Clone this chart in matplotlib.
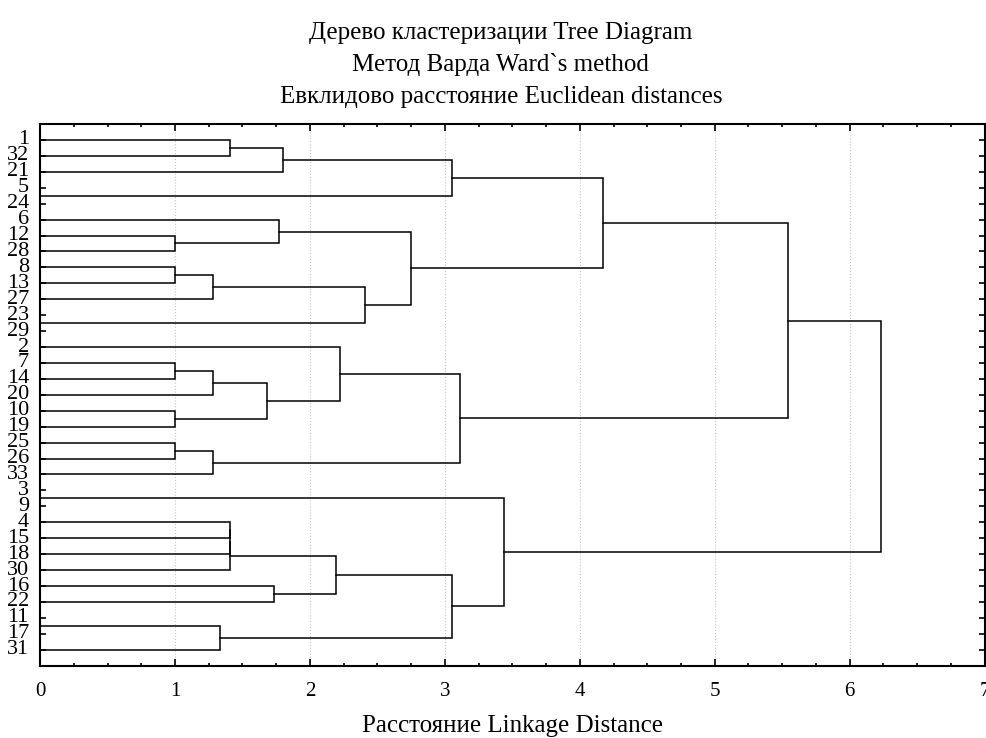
import matplotlib
matplotlib.use("Agg")
import matplotlib.pyplot as plt
from matplotlib.ticker import MultipleLocator

# leaf labels, top to bottom
leaf_labels = ['1', '32', '21', '5', '24', '6', '12', '28', '8', '13', '27', '23', '29',
               '2', '7', '14', '20', '10', '19', '25', '26', '33',
               '3', '9', '4', '15', '18', '30', '16', '22', '11', '17', '31']

# linkage: children (leaf index or cluster id from len(leaf_labels)) and join distance
merge_left = [3, 11, 22, 30, 6, 8, 14, 17, 19, 38, 39, 41, 36, 0, 24, 47,
              48, 43, 28, 5, 46, 49, 13, 42, 52, 53, 54, 55, 35, 58, 62, 63]
merge_right = [4, 12, 23, 31, 7, 9, 15, 18, 20, 10, 16, 21, 32, 1, 25, 26,
               27, 40, 29, 37, 2, 51, 50, 34, 56, 33, 45, 44, 59, 57, 60, 61]
merge_dist = [0.0, 0.0, 0.0, 0.0, 1.0, 1.0, 1.0, 1.0, 1.0, 1.28, 1.28, 1.28,
              1.33, 1.41, 1.41, 1.41, 1.41, 1.68, 1.735, 1.77, 1.80, 2.19,
              2.22, 2.41, 2.75, 3.05, 3.05, 3.11, 3.435, 4.17, 5.54, 6.23]

plt.rcParams['font.family'] = ['Liberation Serif', 'DejaVu Serif']

fig = plt.figure(figsize=(9.86, 7.38), dpi=100)
ax = fig.add_axes([0.0406, 0.098, 0.958, 0.734])

n = len(leaf_labels)
ypos = {i: float(i) for i in range(n)}
xpos = {i: 0.0 for i in range(n)}

for k, (a, b, d) in enumerate(zip(merge_left, merge_right, merge_dist)):
    ax.plot([xpos[a], d, d, xpos[b]], [ypos[a], ypos[a], ypos[b], ypos[b]],
            color='black', lw=1.1, solid_joinstyle='miter')
    cid = n + k
    ypos[cid] = (ypos[a] + ypos[b]) / 2
    xpos[cid] = d

ax.set_xlim(0, 7)
ax.set_ylim(n, -1)
ax.set_xticks(range(8))
ax.xaxis.set_minor_locator(MultipleLocator(0.25))
ax.set_yticks(range(n))
ax.set_yticklabels(leaf_labels)

ax.grid(axis='x', which='major', color='#c8c8c8', linestyle=':', lw=0.8)
ax.set_axisbelow(True)

ax.tick_params(axis='both', which='both', direction='in', top=True, right=True,
               width=1.2, colors='black')
ax.tick_params(axis='x', which='major', length=5, pad=12, labelsize=15)
ax.tick_params(axis='x', which='minor', length=2.5)
ax.tick_params(axis='y', length=4, pad=8, labelsize=16)
for lab in ax.get_yticklabels():
    lab.set_verticalalignment('center')

for sp in ax.spines.values():
    sp.set_linewidth(1.5)

ax.set_xlabel('Расстояние Linkage Distance', fontsize=18)
ax.xaxis.label.set_verticalalignment('baseline')
ax.xaxis.set_label_coords(0.5, -0.1224)

fig.text(0.508, 0.955, 'Дерево кластеризации Tree Diagram', ha='center', va='center', fontsize=18)
fig.text(0.508, 0.912, 'Метод Варда Ward`s method', ha='center', va='center', fontsize=18)
fig.text(0.508, 0.868, 'Евклидово расстояние Euclidean distances', ha='center', va='center', fontsize=18)

fig.savefig('out.png', dpi=100)
